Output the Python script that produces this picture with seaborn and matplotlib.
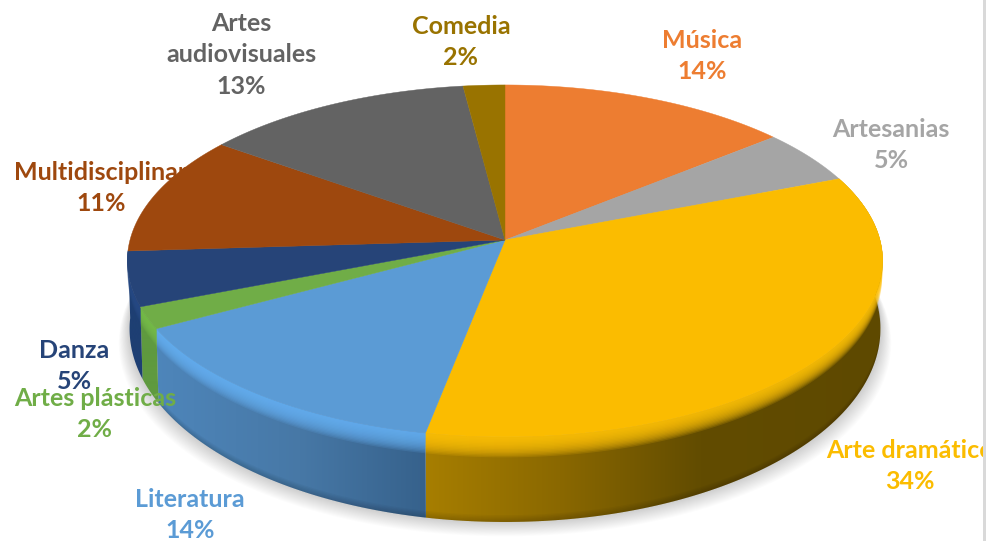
import numpy as np
import matplotlib
matplotlib.use('Agg')
import matplotlib.pyplot as plt
from matplotlib.colors import to_rgb
from matplotlib.patches import Polygon, Rectangle
import seaborn as sns

# data, clockwise from the top of the pie
categories = ['Música', 'Artesanias', 'Arte dramático', 'Literatura', 'Artes plásticas',
              'Danza', 'Multidisciplinar', 'Artes\naudiovisuales', 'Comedia']
percent = [14, 5, 34, 14, 2, 5, 11, 13, 2]
slice_colors = ['#ED7D31', '#A5A5A5', '#FBBC00', '#5B9BD5', '#70AD47',
                '#264478', '#9E480E', '#636363', '#997300']

# label centres in pixels
label_x = [702, 891, 910, 190, 95, 74, 101, 241, 461]
label_y = [56, 145, 466, 515, 414, 366, 188, 55, 42]

# wall gradients: x position and colour
wall_stops = {
    'Arte dramático': ([420, 560, 700, 890], ['#A87F00', '#8A6800', '#624C00', '#5E4900']),
    'Literatura': ([130, 300, 435], ['#4F88BE', '#4778A6', '#35608A']),
    'Artes plásticas': ([125, 175], ['#5F9A3F', '#5F9A3F']),
    'Danza': ([120, 165], ['#1E3F73', '#1E3F73']),
}
rim_colors = {
    'Arte dramático': '#FFC20A',
    'Literatura': '#66B0F2',
    'Artes plásticas': '#78BE4C',
    'Danza': '#2A4D88',
}

cx, cy = 505, 240
rx, ry = 375, 173.5
persp = 0.119
depth = 66


def top_ring(theta, t=0.0):
    # t = 0 is the top face edge, t = 1 the bottom edge of the wall
    th = np.radians(theta)
    s = 1 / (1 + persp * np.cos(th))
    x = cx + rx * np.sin(th) * s * (1 - 0.006 * t)
    y = cy - ry * np.cos(th) * s + t * depth * s ** 2
    return x, y


def band(theta, t0, t1):
    x0, y0 = top_ring(theta, t0)
    x1, y1 = top_ring(theta, t1)
    return np.r_[x0, x1[::-1]], np.r_[y0, y1[::-1]]


sns.set_style('white')
plt.rcParams['font.family'] = ['Lato', 'DejaVu Sans']

fig = plt.figure(figsize=(9.86, 5.41), dpi=100)
ax = fig.add_axes([0, 0, 1, 1])

edges = np.r_[0, np.cumsum(percent)] / sum(percent) * 360
colors = sns.color_palette(slice_colors)

# soft shadow under the pie
all_round = np.linspace(0, 360, 400)
for k in range(16):
    xs, ys = top_ring(all_round, 1)
    grow = 1 + (16 - k) * 0.0018
    ax.fill(cx + (xs - cx) * grow, ys + (16 - k) * 0.9, color='#000000', alpha=0.013, lw=0, zorder=1)

# label that sits behind the pie
for i, name in enumerate(categories):
    if name == 'Multidisciplinar':
        ax.text(label_x[i], label_y[i], f'{name}\n{percent[i]}%', color=slice_colors[i], fontsize=18,
                fontweight='bold', ha='center', va='center', linespacing=1.46, zorder=2)

# side walls with gradient
for i, name in enumerate(categories):
    if name not in wall_stops:
        continue
    theta = np.linspace(edges[i], edges[i + 1], 200)
    xs, ys = band(theta, 0, 1)
    stops, stop_cols = wall_stops[name]
    grid = np.linspace(stops[0], stops[-1], 300)
    rgb = np.array([to_rgb(c) for c in stop_cols])
    img = np.stack([np.interp(grid, stops, rgb[:, c]) for c in range(3)], axis=1)[None, :, :]
    im = ax.imshow(img, extent=(stops[0], stops[-1], 541, 0), aspect='auto', interpolation='bilinear', zorder=3)
    im.set_clip_path(Polygon(np.c_[xs, ys], closed=True, transform=ax.transData))

    # dark edge at the bottom of the wall
    if name in ('Arte dramático', 'Literatura'):
        for t in np.linspace(0.92, 1, 6):
            bx, by = band(theta, t, 1)
            ax.fill(bx, by, color='#000000', alpha=0.03, lw=0, zorder=4)

    # bright rim fading into the wall
    for t in np.linspace(0.24, 0.03, 14):
        bx, by = band(theta, 0, t)
        ax.fill(bx, by, color=rim_colors[name], alpha=0.16, lw=0, zorder=5)

# top faces
for i, name in enumerate(categories):
    theta = np.linspace(edges[i], edges[i + 1], 120)
    xs, ys = top_ring(theta)
    ax.fill(np.r_[cx, xs], np.r_[cy, ys], color=colors[i], lw=0.3, ec=colors[i], zorder=6)

# labels on top
for i, name in enumerate(categories):
    if name == 'Multidisciplinar':
        continue
    txt = ax.text(label_x[i], label_y[i], f'{name}\n{percent[i]}%', color=slice_colors[i], fontsize=18,
                  fontweight='bold', ha='center', va='center', linespacing=1.46, zorder=8 + i)
    if name == 'Arte dramático':
        txt.set_clip_path(Rectangle((0, 0), 982, 541, transform=ax.transData))

ax.axvspan(982.5, 985.5, color='#D9D9D9', lw=0, zorder=30)

ax.set_xlim(0, 986)
ax.set_ylim(541, 0)
ax.axis('off')

fig.savefig('out.png', dpi=100, facecolor='white')
